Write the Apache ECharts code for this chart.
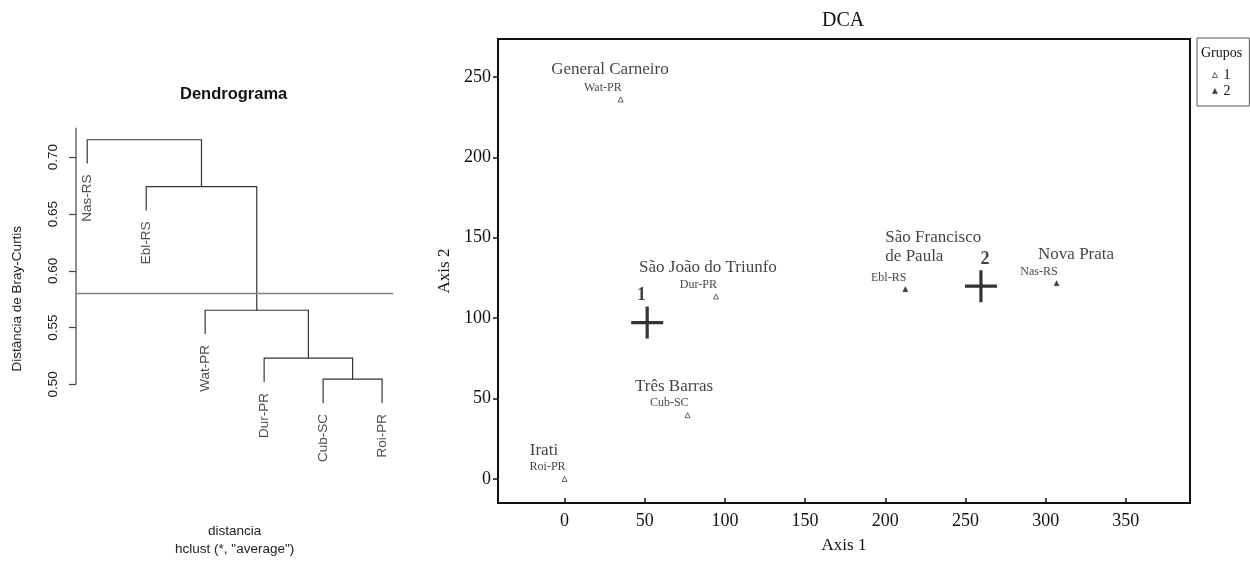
<!DOCTYPE html>
<html>
<head>
<meta charset="utf-8">
<script src="https://cdn.jsdelivr.net/npm/echarts@6/dist/echarts.min.js"></script>
<style>
html,body{margin:0;padding:0;background:#fff;}
#chart{width:1250px;height:563px;}
</style>
</head>
<body>
<div id="chart"></div>
<script>
// ---------------- Dendrogram data ----------------
const leafLabels = ['Nas-RS', 'Ebl-RS', 'Wat-PR', 'Dur-PR', 'Cub-SC', 'Roi-PR']; // plot order
// R-style merge table: negative = leaf (1-based, plot order), positive = earlier merge
const mergeLeft   = [-5, -4, -3, -2, -1];
const mergeRight  = [-6,  1,  2,  3,  4];
const mergeHeight = [0.5046, 0.5232, 0.5653, 0.6741, 0.7154];
const leafHang = 0.021;
const cutHeight = 0.58;
const distTicks = [0.50, 0.55, 0.60, 0.65, 0.70];
const distAxisTop = 0.726;

// ---------------- DCA data ----------------
const siteCodes = ['Wat-PR', 'Dur-PR', 'Cub-SC', 'Roi-PR', 'Ebl-RS', 'Nas-RS'];
const siteNames = ['General Carneiro', 'São João do Triunfo', 'Três Barras', 'Irati', 'São Francisco\nde Paula', 'Nova Prata'];
const axis1Scores = [35, 94.4, 76.7, 0, 212.5, 306.8];
const axis2Scores = [236, 113.4, 39.6, 0, 118, 121.7];
const siteGroup = [1, 1, 1, 1, 2, 2];
const groupNames = ['1', '2'];
const axis1Ticks = [0, 50, 100, 150, 200, 250, 300, 350];
const axis2Ticks = [0, 50, 100, 150, 200, 250];

// ---------------- styles / layout (not data) ----------------
const SANS = '"Liberation Sans", Arial, sans-serif';
const SERIF = '"Liberation Serif", "Times New Roman", serif';
const cityLabelLayout = {
  'Wat-PR': {offset: [-10.7, -30], align: 'center'},
  'Dur-PR': {offset: [-8, -29.5], align: 'center'},
  'Cub-SC': {offset: [-13.5, -29], align: 'center'},
  'Roi-PR': {offset: [-20.6, -28.7], align: 'center'},
  'Ebl-RS': {offset: [-20, -42.3], align: 'left'},
  'Nas-RS': {offset: [19.5, -28.3], align: 'center'}
};
const centroidLabelOffset = {'1': [-5.6, 0], '2': [4, 0]};
const groupStyle = {
  '1': {color: '#fff', borderColor: '#111', borderWidth: 0.8},
  '2': {color: '#111', borderColor: '#111', borderWidth: 0.5}
};

// ---------------- build dendrogram geometry from merges ----------------
const nodeX = [];
const leafBottom = new Array(leafLabels.length);
function childPos(c, h) {
  if (c < 0) {
    const k = -c;
    leafBottom[k - 1] = h - leafHang;
    return {x: k, y: h - leafHang};
  }
  return {x: nodeX[c - 1], y: mergeHeight[c - 1]};
}
const treeSegments = [];
for (let m = 0; m < mergeHeight.length; m++) {
  const h = mergeHeight[m];
  const pa = childPos(mergeLeft[m], h);
  const pb = childPos(mergeRight[m], h);
  nodeX[m] = (pa.x + pb.x) / 2;
  treeSegments.push({coords: [[pa.x, pa.y], [pa.x, h], [pb.x, h], [pb.x, pb.y]]});
}
const dendXMin = 0.81, dendXMax = 6.19;

// ---------------- DCA centroids (group means) ----------------
const centroids = groupNames.map(g => {
  const idx = siteGroup.map((v, i) => String(v) === g ? i : -1).filter(i => i >= 0);
  const mx = idx.reduce((s, i) => s + axis1Scores[i], 0) / idx.length;
  const my = idx.reduce((s, i) => s + axis2Scores[i], 0) / idx.length;
  return {name: g, value: [mx, my]};
});

function groupData(g) {
  return siteCodes.map((c, i) => ({name: c, value: [axis1Scores[i], axis2Scores[i]], grp: siteGroup[i]}))
    .filter(d => String(d.grp) === g)
    .map(d => ({name: d.name, value: d.value}));
}

const crossPath = 'path://M-1.6,-16 L1.6,-16 L1.6,-1.6 L16,-1.6 L16,1.6 L1.6,1.6 L1.6,16 L-1.6,16 L-1.6,1.6 L-16,1.6 L-16,-1.6 L-1.6,-1.6 Z';

const groupSeries = groupNames.map(g => ({
  type: 'scatter', name: g, xAxisIndex: 1, yAxisIndex: 1, symbol: 'triangle', symbolSize: 5,
  itemStyle: groupStyle[g],
  data: groupData(g),
  label: {show: true, position: 'top', distance: 3, align: 'right', offset: [1, 0],
          formatter: p => p.name, fontFamily: SERIF, fontSize: 12, color: '#111'}
}));

const chart = echarts.init(document.getElementById('chart'), null, {renderer: 'canvas'});
const option = {
  animation: false,
  backgroundColor: '#fff',
  title: [
    {text: 'Dendrograma', left: 180, top: 86, padding: 0,
     textStyle: {fontFamily: SANS, fontWeight: 'bold', fontSize: 16.5, color: '#111'}},
    {text: 'DCA', left: 822, top: 11, padding: 0,
     textStyle: {fontFamily: SERIF, fontWeight: 'normal', fontSize: 20, color: '#111'}}
  ],
  legend: {
    orient: 'vertical',
    left: 1197, top: 38,
    padding: [30, 19, 8, 15],
    borderColor: '#555', borderWidth: 1,
    itemWidth: 5, itemHeight: 5, itemGap: 2,
    data: groupNames.map(g => ({name: g, icon: 'triangle', itemStyle: groupStyle[g]})),
    textStyle: {fontFamily: SERIF, fontSize: 14, color: '#111', padding: [0, 0, 0, 1]}
  },
  graphic: [
    {type: 'text', left: 1201, top: 46,
     style: {text: 'Grupos', font: '14px "Liberation Serif", serif', fill: '#111'}}
  ],
  grid: [
    {left: 76, top: 127.7, width: 317.3, height: 350.4, show: false},
    {left: 498, top: 39, width: 692, height: 464, show: true, borderColor: '#111', borderWidth: 2, backgroundColor: 'transparent'}
  ],
  xAxis: [
    {gridIndex: 0, type: 'value', min: dendXMin, max: dendXMax,
     axisLine: {show: false}, axisTick: {show: false}, axisLabel: {show: false}, splitLine: {show: false},
     name: 'distancia\nhclust (*, "average")', nameLocation: 'middle', nameGap: 53,
     nameTextStyle: {fontFamily: SANS, fontSize: 13.5, lineHeight: 17.7, color: '#222'}},
    {gridIndex: 1, type: 'value', min: -41.5, max: 390,
     axisLine: {show: true, onZero: false, lineStyle: {color: '#111', width: 2}},
     axisTick: {show: true, inside: true, customValues: axis1Ticks, length: 5, lineStyle: {color: '#111', width: 1.5}},
     axisLabel: {customValues: axis1Ticks, margin: 9, fontFamily: SERIF, fontSize: 18, color: '#111'},
     splitLine: {show: false},
     name: 'Axis 1', nameLocation: 'middle', nameGap: 34,
     nameTextStyle: {fontFamily: SERIF, fontSize: 17, color: '#111'}}
  ],
  yAxis: [
    {gridIndex: 0, type: 'value', min: 0.425, max: distAxisTop,
     axisLine: {show: false, onZero: false},
     axisTick: {show: true, customValues: distTicks, length: 7, lineStyle: {color: '#444', width: 1.2}},
     axisLabel: {customValues: distTicks, rotate: 90, margin: 16, formatter: v => v.toFixed(2),
                 fontFamily: SANS, fontSize: 13.5, color: '#222'},
     splitLine: {show: false},
     name: 'Distância de Bray-Curtis', nameLocation: 'middle', nameRotate: 90, nameGap: 52,
     nameTextStyle: {fontFamily: SANS, fontSize: 13.5, color: '#222'}},
    {gridIndex: 1, type: 'value', min: -15, max: 273.6,
     axisLine: {show: true, onZero: false, lineStyle: {color: '#111', width: 2}},
     axisTick: {show: true, customValues: axis2Ticks, length: 5, lineStyle: {color: '#111', width: 1.5}},
     axisLabel: {customValues: axis2Ticks, margin: 7, fontFamily: SERIF, fontSize: 18, color: '#111'},
     splitLine: {show: false},
     name: 'Axis 2', nameLocation: 'middle', nameRotate: 90, nameGap: 41,
     nameTextStyle: {fontFamily: SERIF, fontSize: 17, color: '#111'}}
  ],
  series: [
    // dendrogram branches
    {type: 'lines', name: 'tree', coordinateSystem: 'cartesian2d', xAxisIndex: 0, yAxisIndex: 0,
     polyline: true, silent: true,
     lineStyle: {color: '#333', width: 1.2, opacity: 1},
     data: treeSegments},
    // dendrogram axis line
    {type: 'lines', name: 'axisline', coordinateSystem: 'cartesian2d', xAxisIndex: 0, yAxisIndex: 0,
     polyline: true, silent: true,
     lineStyle: {color: '#444', width: 1.2, opacity: 1},
     data: [{coords: [[dendXMin, distTicks[0]], [dendXMin, distAxisTop]]}]},
    // cut line
    {type: 'lines', name: 'cut', coordinateSystem: 'cartesian2d', xAxisIndex: 0, yAxisIndex: 0,
     polyline: true, silent: true,
     lineStyle: {color: '#808080', width: 1.6, opacity: 1},
     data: [{coords: [[dendXMin, cutHeight], [dendXMax, cutHeight]]}]},
    // leaf labels
    {type: 'scatter', name: 'leaves', xAxisIndex: 0, yAxisIndex: 0, symbolSize: 0, silent: true,
     data: leafLabels.map((l, i) => ({name: l, value: [i + 1, leafBottom[i]]})),
     label: {show: true, position: 'bottom', distance: 11, rotate: 90, align: 'right', verticalAlign: 'middle',
             formatter: p => p.name, fontFamily: SANS, fontSize: 13.5, color: '#222'}},
    ...groupSeries,
    // city names
    {type: 'scatter', name: 'cities', xAxisIndex: 1, yAxisIndex: 1, symbolSize: 0, silent: true,
     data: siteCodes.map((c, i) => ({
       name: siteNames[i], value: [axis1Scores[i], axis2Scores[i]],
       label: {offset: cityLabelLayout[c].offset, align: cityLabelLayout[c].align}
     })),
     label: {show: true, position: 'inside', verticalAlign: 'middle', formatter: p => p.name,
             fontFamily: SERIF, fontSize: 17, lineHeight: 19.5, color: '#111'}},
    // centroids
    {type: 'scatter', name: 'centroids', xAxisIndex: 1, yAxisIndex: 1, symbol: crossPath, symbolSize: 32,
     silent: true, itemStyle: {color: '#000'},
     data: centroids.map(c => ({name: c.name, value: c.value, label: {offset: centroidLabelOffset[c.name]}})),
     label: {show: true, position: 'top', distance: 2, formatter: p => p.name,
             fontFamily: SERIF, fontWeight: 'bold', fontSize: 18, color: '#111'}}
  ]
};
chart.setOption(option);
</script>
</body>
</html>
